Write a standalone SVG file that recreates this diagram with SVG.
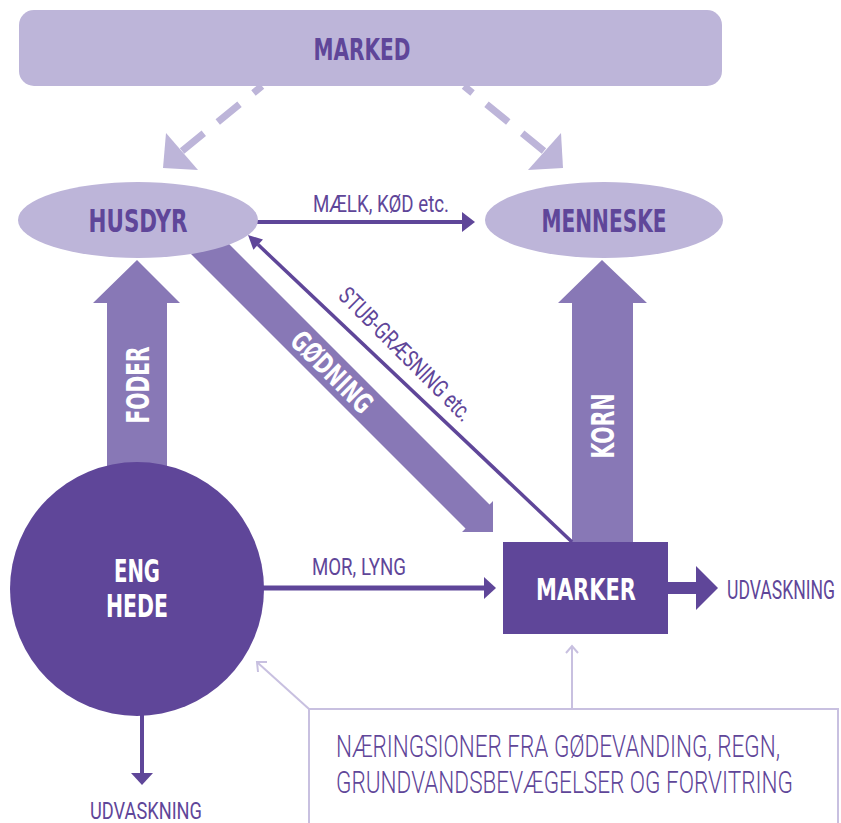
<svg xmlns="http://www.w3.org/2000/svg" width="841" height="823" viewBox="0 0 841 823">
<style>
.light{fill:#bdb5d9}
.mid{fill:#8878b6}
.dark{fill:#5f4699}
.b{font-family:"DejaVu Sans Condensed","DejaVu Sans",sans-serif;font-weight:bold;text-anchor:middle}
.r{font-family:"Roboto","DejaVu Sans Condensed",sans-serif;font-weight:400}
.l{font-family:"Roboto","DejaVu Sans Condensed",sans-serif;font-weight:300}
.td{fill:#5f4699}
.tw{fill:#ffffff}
.dash{fill:none;stroke:#bdb5d9;stroke-width:7;stroke-dasharray:28 18;stroke-dashoffset:17}
.thin{fill:none;stroke:#c8c0e0;stroke-width:2}
</style>
<rect width="841" height="823" fill="#ffffff"/>
<g id="connectors">
  <line class="dash" x1="262" y1="86" x2="182" y2="151"/>
  <polygon class="light" points="163,168 166,133 198,170"/>
  <line class="dash" x1="464" y1="86" x2="544" y2="151"/>
  <polygon class="light" points="563,168 561,133 528,170"/>
  <line x1="257" y1="222" x2="464" y2="222" stroke="#5f4699" stroke-width="4"/>
  <polygon class="dark" points="462,212 475,222 462,232"/>
  <text class="r td" x="313" y="212" font-size="23" textLength="136" lengthAdjust="spacingAndGlyphs">MÆLK, KØD etc.</text>
  <polygon class="mid" points="137,260 180,303 167,303 167,500 107,500 107,303 93,303"/>
  <text class="b tw" transform="translate(149,385) rotate(-90)" font-size="32" textLength="77" lengthAdjust="spacingAndGlyphs">FODER</text>
  <polygon class="mid" points="602,260 647,303 633,303 633,545 572,545 572,303 558,303"/>
  <text class="b tw" transform="translate(614,426) rotate(-90)" font-size="32" textLength="65" lengthAdjust="spacingAndGlyphs">KORN</text>
  <polygon class="mid" points="210,225 489.5,504.5 493,501 493,532 462,532 465.5,528.5 170,233"/>
  <text class="b tw" transform="translate(325,379) rotate(45)" font-size="28" textLength="103" lengthAdjust="spacingAndGlyphs">GØDNING</text>
  <line x1="572" y1="542" x2="258" y2="244.6" stroke="#5f4699" stroke-width="3.5"/>
  <polygon class="dark" points="248,235 263,239.5 253.4,249.7"/>
  <text class="r td" transform="translate(400,360) rotate(45)" font-size="24" text-anchor="middle" textLength="178" lengthAdjust="spacingAndGlyphs">STUB-GRÆSNING etc.</text>
  <line x1="262" y1="588" x2="486" y2="588" stroke="#5f4699" stroke-width="5"/>
  <polygon class="dark" points="484,577 496,588 484,599"/>
  <text class="r td" x="312" y="575" font-size="24" textLength="94" lengthAdjust="spacingAndGlyphs">MOR, LYNG</text>
  <polygon class="dark" points="668,582 696,582 696,566 718,588 696,610 696,594 668,594"/>
  <text class="r td" x="727" y="599" font-size="25" textLength="108" lengthAdjust="spacingAndGlyphs">UDVASKNING</text>
  <line x1="142" y1="712" x2="142" y2="775" stroke="#5f4699" stroke-width="4"/>
  <polygon class="dark" points="131,773 153,773 142,785"/>
  <text class="r td" x="146" y="819" font-size="24" text-anchor="middle" textLength="112" lengthAdjust="spacingAndGlyphs">UDVASKNING</text>
  <line class="thin" x1="309" y1="709" x2="258" y2="663"/>
  <polyline class="thin" points="258,672 257,662 267,662"/>
  <line class="thin" x1="572" y1="709" x2="572" y2="647"/>
  <polyline class="thin" points="566,653 572,646 578,653"/>
</g>
<g id="marked">
  <rect class="light" x="19" y="10" width="703" height="76" rx="15"/>
  <text class="b td" x="362" y="60" font-size="31" textLength="97" lengthAdjust="spacingAndGlyphs">MARKED</text>
</g>
<g id="husdyr">
  <ellipse class="light" cx="138" cy="220" rx="120" ry="38"/>
  <text class="b td" x="138" y="232" font-size="32" textLength="99" lengthAdjust="spacingAndGlyphs">HUSDYR</text>
</g>
<g id="menneske">
  <ellipse class="light" cx="604" cy="220" rx="119" ry="38"/>
  <text class="b td" x="604" y="232" font-size="32" textLength="125" lengthAdjust="spacingAndGlyphs">MENNESKE</text>
</g>
<g id="enghede">
  <circle class="dark" cx="137" cy="589" r="127"/>
  <text class="b tw" x="137" y="582" font-size="32" textLength="46" lengthAdjust="spacingAndGlyphs">ENG</text>
  <text class="b tw" x="137" y="617" font-size="32" textLength="62" lengthAdjust="spacingAndGlyphs">HEDE</text>
</g>
<g id="marker">
  <rect class="dark" x="503" y="542" width="165" height="92"/>
  <text class="b tw" x="586" y="600" font-size="31" textLength="100" lengthAdjust="spacingAndGlyphs">MARKER</text>
</g>
<g id="note">
  <path d="M309 823 V709 H838 V823" fill="none" stroke="#c8c0e0" stroke-width="2"/>
  <text class="l td" x="336" y="757" font-size="31" textLength="444" lengthAdjust="spacingAndGlyphs">NÆRINGSIONER FRA GØDEVANDING, REGN,</text>
  <text class="l td" x="336" y="793" font-size="31" textLength="457" lengthAdjust="spacingAndGlyphs">GRUNDVANDSBEVÆGELSER OG FORVITRING</text>
</g>
</svg>
